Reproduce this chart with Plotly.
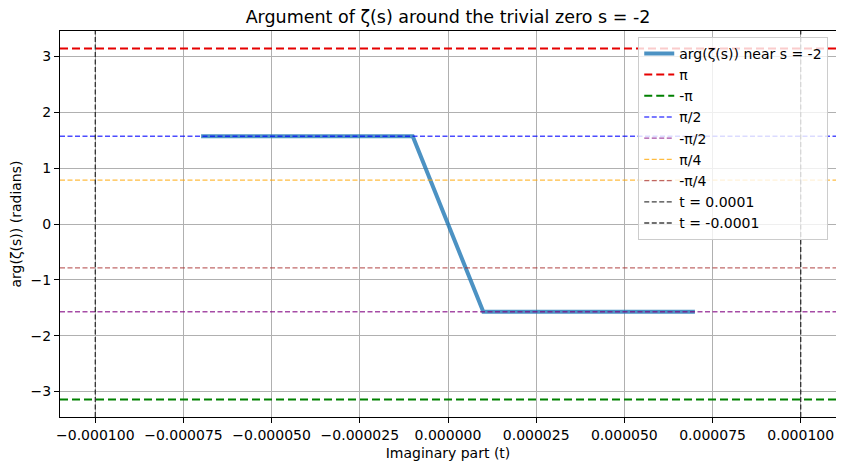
import numpy as np
import plotly.graph_objects as go

# sampled imaginary parts and the argument of zeta at s = -2 + i t
t_values = [-7e-05, -5e-05, -3e-05, -1e-05, 1e-05, 3e-05, 5e-05, 7e-05]
arg_values = [1.5708, 1.5708, 1.5708, 1.5708, -1.5708, -1.5708, -1.5708, -1.5708]

# reference lines: (label, value, colour, width, dash)
h_lines = [
    ("π", np.pi, "rgb(230,0,0)", 2, "8px,4px"),
    ("-π", -np.pi, "rgb(0,128,0)", 2, "8px,4px"),
    ("π/2", np.pi / 2, "rgba(0,0,255,0.7)", 1.3, "5px,2.5px"),
    ("-π/2", -np.pi / 2, "rgba(128,0,128,0.7)", 1.3, "5px,2.5px"),
    ("π/4", np.pi / 4, "rgba(255,165,0,0.75)", 1.3, "5px,2.5px"),
    ("-π/4", -np.pi / 4, "rgba(165,42,42,0.7)", 1.3, "5px,2.5px"),
]
v_lines = [
    ("t = 0.0001", 0.0001),
    ("t = -0.0001", -0.0001),
]

x_ticks = [-0.0001, -0.000075, -0.00005, -0.000025, 0.0, 0.000025, 0.00005, 0.000075, 0.0001]
y_ticks = [-3, -2, -1, 0, 1, 2, 3]


def fmt(v, digits):
    s = f"{v:.{digits}f}"
    return s.replace("-", "\u2212")


fig = go.Figure()
fig.add_trace(go.Scatter(
    x=t_values, y=arg_values, mode="lines", name="arg(ζ(s)) near s = -2",
    line={"color": "rgba(31,119,180,0.8)", "width": 4}, legendrank=1,
))

rank = 2
for label, val, color, width, dash in h_lines:
    fig.add_shape(type="line", xref="x domain", x0=0, x1=1, yref="y", y0=val, y1=val,
                  line={"color": color, "width": width, "dash": dash},
                  showlegend=True, name=label, legendrank=rank, layer="above")
    rank += 1
for label, val in v_lines:
    fig.add_shape(type="line", yref="y domain", y0=0, y1=1, xref="x", x0=val, x1=val,
                  line={"color": "rgba(0,0,0,0.75)", "width": 1.3, "dash": "5px,2.5px"},
                  showlegend=True, name=label, legendrank=rank, layer="above")
    rank += 1

axis_common = {
    "showline": True, "linecolor": "black", "linewidth": 1, "mirror": True,
    "ticks": "outside", "ticklen": 5, "tickcolor": "black",
    "showgrid": True, "gridcolor": "#b0b0b0", "gridwidth": 0.8,
    "zeroline": False, "tickfont": {"size": 14, "color": "black"},
    "automargin": False,
}

# the page body adds an 8px offset, so the figure is 8px smaller than the window
fig.update_layout(
    width=836, height=462,
    margin={"l": 52, "r": 8, "t": 23, "b": 53, "autoexpand": False},
    paper_bgcolor="white", plot_bgcolor="white",
    font={"family": "DejaVu Sans", "color": "black"},
    title={"text": "Argument of ζ(s) around the trivial zero s = -2", "x": 0.5, "xanchor": "center",
           "xref": "paper", "y": 0.98, "yanchor": "middle", "font": {"size": 17.5}},
    xaxis={**axis_common, "range": [-1.1e-4, 1.1e-4], "tickvals": x_ticks,
           "ticktext": [fmt(v, 6) for v in x_ticks],
           "title": {"text": "Imaginary part (t)", "font": {"size": 14}, "standoff": 6}},
    yaxis={**axis_common, "range": [-1.1 * np.pi, 1.1 * np.pi], "tickvals": y_ticks,
           "ticktext": [fmt(v, 0) for v in y_ticks],
           "title": {"text": "arg(ζ(s)) (radians)", "font": {"size": 14}, "standoff": 8}},
    legend={"x": 0.99, "y": 0.985, "xanchor": "right", "yanchor": "top",
            "bgcolor": "rgba(255,255,255,0.8)", "bordercolor": "#cccccc", "borderwidth": 1,
            "font": {"size": 14}, "tracegroupgap": 0},
    showlegend=True,
)

fig.write_html("out.html")
